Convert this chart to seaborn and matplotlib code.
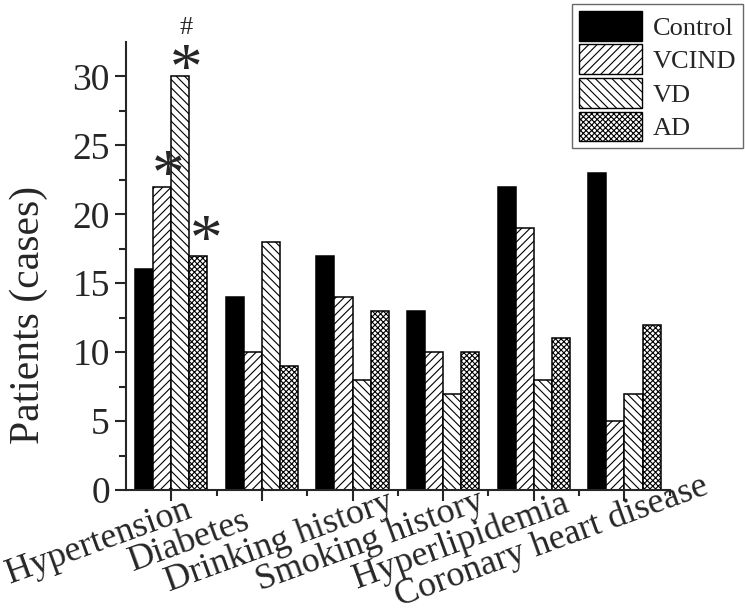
import matplotlib
matplotlib.use("Agg")
import matplotlib.pyplot as plt
import matplotlib.patches as mpatches
import matplotlib.transforms as mtrans
from matplotlib.textpath import TextPath
from matplotlib.font_manager import FontProperties
import numpy as np
import pandas as pd
import seaborn as sns

categories = ["Hypertension", "Diabetes", "Drinking history", "Smoking history",
              "Hyperlipidemia", "Coronary heart disease"]
groups = ["Control", "VCIND", "VD", "AD"]
control = [16, 14, 17, 13, 22, 23]
vcind = [22, 10, 14, 10, 19, 5]
vd = [30, 18, 8, 7, 8, 7]
ad = [17, 9, 13, 10, 11, 12]

df = pd.DataFrame({
    "factor": categories * 4,
    "group": np.repeat(groups, len(categories)),
    "cases": control + vcind + vd + ad,
})

sns.set_style("ticks")
plt.rcParams["font.family"] = ["Liberation Serif", "DejaVu Serif"]
plt.rcParams["hatch.linewidth"] = 0.8

fig = plt.figure(figsize=(7.45, 6.15), dpi=100)
ax = fig.add_axes([0.169, 0.203, 0.730, 0.729])

colors = ["black", "white", "white", "white"]
hatches = [None, "////", "\\\\\\\\", "xxxxxx"]
sns.barplot(data=df, x="factor", y="cases", hue="group", hue_order=groups,
            order=categories, palette=colors, edgecolor="black", linewidth=1.1,
            width=0.8, legend=False, ax=ax)

for cont, h in zip(ax.containers, hatches):
    for bar in cont:
        bar.set_edgecolor("black")
        if h:
            bar.set_hatch(h)

ax.set_ylim(0, 32.5)
ax.set_xlim(-0.5, 5.5)
ax.set_yticks(range(0, 31, 5))
ax.set_yticks(np.arange(2.5, 32.5, 5), minor=True)
ax.set_xticks(np.arange(0.5, 5.6, 1.0), minor=True)
ax.set_xlabel("")
ax.set_ylabel("Patients (cases)", fontsize=30)
ax.yaxis.set_label_coords(-0.143, 0.39)
ax.tick_params(axis="y", which="major", labelsize=27, width=1.5, length=8)
ax.tick_params(axis="y", which="minor", width=1.5, length=5)
ax.tick_params(axis="x", which="major", width=1.5, length=8, pad=35)
ax.tick_params(axis="x", which="minor", width=1.5, length=4)
ax.set_xticks(range(len(categories)))
ax.set_xticklabels(categories, fontsize=26, rotation=20, ha="center",
                   va="baseline", rotation_mode="anchor")
shift = mtrans.ScaledTranslation(-0.70, 0, fig.dpi_scale_trans)
for lab in ax.get_xticklabels():
    lab.set_transform(lab.get_transform() + shift)
for s in ["top", "right"]:
    ax.spines[s].set_visible(False)
for s in ["left", "bottom"]:
    ax.spines[s].set_linewidth(1.5)


def mark(x, y, s, fs):
    # place glyph so that its ink is centred on (x, y)
    ext = TextPath((0, 0), s, size=fs,
                   prop=FontProperties(family="Liberation Serif")).get_extents()
    dx = -(ext.x0 + ext.x1) / 2
    dy = -(ext.y0 + ext.y1) / 2
    ax.annotate(s, xy=(x, y), xytext=(dx, dy), textcoords="offset points",
                fontsize=fs, ha="left", va="baseline", annotation_clip=False)


# significance marks over Hypertension
mark(-0.1 + 0.07, vcind[0] + 1.7, "*", 47)
mark(0.1 + 0.06, vd[0] + 1.4, "*", 47)
mark(0.3 + 0.09, ad[0] + 2.0, "*", 47)
mark(0.1 + 0.06, vd[0] + 3.7, "#", 19)

handles = [mpatches.Patch(facecolor=c, edgecolor="black", hatch=h, label=g)
           for c, h, g in zip(colors, hatches, groups)]
leg = fig.legend(handles=handles, loc="upper right", bbox_to_anchor=(0.997, 0.993),
                 fontsize=19, frameon=True, fancybox=False, handlelength=2.4,
                 handleheight=1.35, labelspacing=0.15, handletextpad=0.4,
                 borderpad=0.25, borderaxespad=0)
leg.get_frame().set_edgecolor("#444444")
leg.get_frame().set_linewidth(1.0)

fig.savefig("out.png", dpi=100)
